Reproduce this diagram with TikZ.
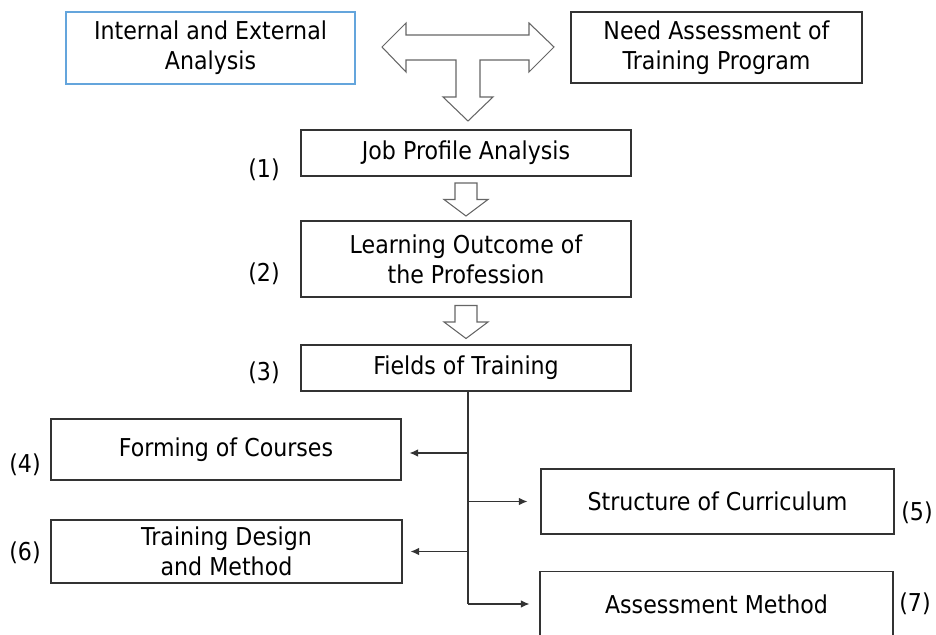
\documentclass[tikz,border=0pt]{standalone}
\usepackage{fontspec}
\setmainfont[FakeStretch=0.9]{DejaVu Sans}
\usepackage{tikz}
\usetikzlibrary{arrows.meta,calc}
\definecolor{boxline}{rgb}{0.2,0.2,0.2}
\definecolor{paleblue}{RGB}{100,165,220}
\definecolor{arrowgray}{rgb}{0.4,0.4,0.4}

\tikzset{
  stage/.style={draw=boxline, line width=0.6pt, minimum width=66mm, minimum height=9.2mm, align=center, inner sep=0pt},
  side/.style={draw=boxline, line width=0.6pt, minimum width=70.2mm, minimum height=12.4mm, align=center, inner sep=0pt},
  num/.style={inner sep=0pt},
  link/.style={-{Latex[length=1.7mm,width=1.5mm]}, line width=0.7pt, draw=boxline},
  hollow/.style={draw=arrowgray, fill=white, line width=0.6pt, line join=miter}
}

\begin{document}
\begin{tikzpicture}[x=0.2mm,y=-0.2mm,font=\fontsize{14}{17}\selectfont]
        \clip (0,0) rectangle (936,635);
        % Top row
        \node[draw=paleblue, line width=0.6pt, minimum width=57.8mm, minimum height=14.4mm, align=center, inner sep=0pt] (ext) at (210.5,48) {Internal and External\\Analysis};
        \node[stage, minimum width=58.2mm, minimum height=14.2mm] (need) at (716.5,47.5) {Need Assessment of\\Training Program};
        % T-shaped block arrow
        \draw[hollow] (382,47) -- (406,23) -- (406,35) -- (529,35) -- (529,23) -- (554,47)
                -- (529,72) -- (529,60) -- (480,60) -- (480,97) -- (493,97) -- (468,121)
                -- (443,97) -- (456,97) -- (456,60) -- (406,60) -- (406,72) -- cycle;

        % Main column
        \node[stage] (job) at (466,153) {Job Profile Analysis};
        \node[stage, minimum height=15.2mm] (learn) at (466,259) {Learning Outcome of\\the Profession};
        \node[stage] (fields) at (466,368) {Fields of Training};
        \node[num] (n1) at (264,170) {(1)};
        \node[num] (n2) at (264,274) {(2)};
        \node[num] (n3) at (264,373) {(3)};

        % Down arrows between stages
        \foreach \a/\b in {job/learn, learn/fields}
          \draw[hollow, shift={($(\a.south)!0.5!(\b.north)+(0,1)$)}]
                (-11,-16.5) -- (11,-16.5) -- (11,0) -- (22,0) -- (0,16.5) -- (-22,0) -- (-11,0) -- cycle;

        % Branches
        \node[side, minimum width=70mm, minimum height=12.2mm] (forming) at (226,449.5) {Forming of Courses};
        \node[side, minimum width=70.6mm, minimum height=13mm] (struct) at (717.5,501.5) {Structure of Curriculum};
        \node[side, minimum height=12.6mm] (design) at (226.5,551.5) {Training Design\\and Method};
        \node[side, minimum width=70.6mm, minimum height=13mm] (assess) at (716.5,604) {Assessment Method};
        \node[num] (n4) at (25,465) {(4)};
        \node[num] (n5) at (917,513) {(5)};
        \node[num] (n6) at (25,553) {(6)};
        \node[num] (n7) at (915,604) {(7)};

        \coordinate (top) at ($(fields.south)+(2,0)$);
        \coordinate (bottom) at (top |- assess.west);
        \draw[line width=0.7pt, draw=boxline] (top) -- (bottom);
        \draw[link] ($(top |- forming.east)+(0,3.5)$) -- ($(forming.east)+(8,3.5)$);
        \draw[link] (top |- struct.west) -- ($(struct.west)+(-13,0)$);
        \draw[link] (top |- design.east) -- ($(design.east)+(8,0)$);
        \draw[link] (bottom) -- ($(assess.west)+(-10,0)$);
\end{tikzpicture}
\end{document}
